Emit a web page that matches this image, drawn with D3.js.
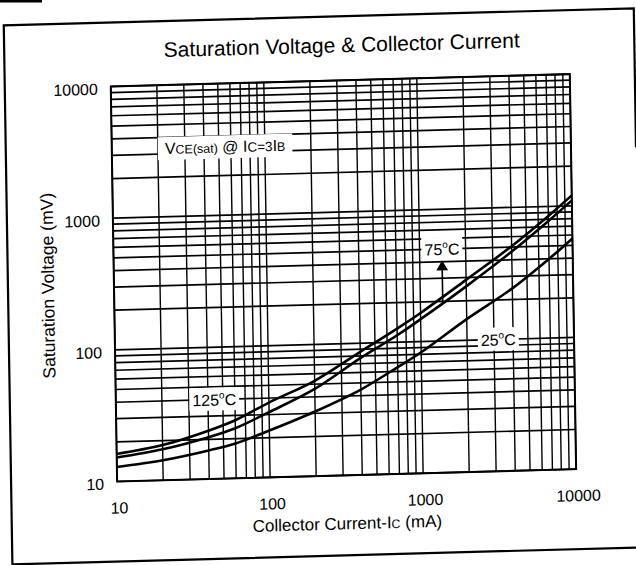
<!DOCTYPE html>
<html>
<head>
<meta charset="utf-8">
<script src="https://cdn.jsdelivr.net/npm/d3@7"></script>
<style>
  body { margin: 0; background: #fff; }
  svg { display: block; font-family: Arial, "Liberation Sans", sans-serif; }
</style>
</head>
<body>
<div id="viz"></div>
<script>
// collector current (mA) and saturation voltage (mV)
var currents = [10, 20, 40, 60, 100, 200, 400, 700, 1000, 2000, 4000, 7000, 10000];
var v125 = [16.2, 18.5, 23.3, 27.6, 37, 53, 86, 127, 165, 288, 508, 847, 1200];
var v75 = [15.2, 17.2, 20.8, 24, 31.3, 46, 77, 113, 148, 257, 462, 776, 1100];
var v25 = [12.9, 14.2, 16.5, 18.4, 22.7, 31, 44.5, 64.7, 83, 145, 243, 400, 565];

var xTickLabels = ["10", "100", "1000", "10000"];
var yTickLabels = ["10", "100", "1000", "10000"];

var tempLabels = [
  { text: "125", x: 44, y: 40 },
  { text: "75", x: 1400, y: 500, arrow: true },
  { text: "25", x: 3200, y: 100 }
];

var width = 636, height = 565;
// note: "top" is taken by window.top, so keep plot edges in one place
var plot = { left: 114, right: 573, top: 81, bottom: 476 };

var x = d3.scaleLog().domain([10, 10000]).range([plot.left, plot.right]);
var y = d3.scaleLog().domain([10, 10000]).range([plot.bottom, plot.top]);

var svg = d3.select("#viz").append("svg")
  .attr("width", width)
  .attr("height", height);

// scrap of the neighbouring box at the top-left of the scan
svg.append("rect")
  .attr("x", 0).attr("y", 0).attr("width", 42).attr("height", 2.5)
  .attr("fill", "#000");

// the scanned page sits a little crooked
var g = svg.append("g")
  .attr("transform", "matrix(1,-0.027,0.016,1,-4.5,8.6)");

// page frame (right side only shows near the top)
g.append("path")
  .attr("d", "M638,156 L638,17 L8,17 L8,556 L645,556")
  .attr("fill", "none")
  .attr("stroke", "#000")
  .attr("stroke-width", 2.2);

g.append("text")
  .attr("x", (plot.left + plot.right) / 2 + 2)
  .attr("y", 53)
  .attr("text-anchor", "middle")
  .attr("font-size", 21)
  .text("Saturation Voltage & Collector Current");

// log grid
var grid = g.append("g").attr("stroke", "#000");
grid.selectAll(".vx").data(x.ticks())
  .enter().append("line")
  .attr("x1", function(d) { return x(d); })
  .attr("x2", function(d) { return x(d); })
  .attr("y1", plot.top).attr("y2", plot.bottom)
  .attr("stroke-width", 1.4);
grid.selectAll(".hy").data(y.ticks())
  .enter().append("line")
  .attr("y1", function(d) { return y(d); })
  .attr("y2", function(d) { return y(d); })
  .attr("x1", plot.left).attr("x2", plot.right)
  .attr("stroke-width", 1.7);

g.append("rect")
  .attr("x", plot.left).attr("y", plot.top)
  .attr("width", plot.right - plot.left).attr("height", plot.bottom - plot.top)
  .attr("fill", "none").attr("stroke", "#000").attr("stroke-width", 2);

// tick labels
g.selectAll(".xl").data(xTickLabels)
  .enter().append("text")
  .attr("x", function(d) { return x(+d) + 2; })
  .attr("y", plot.bottom + 32)
  .attr("text-anchor", "middle")
  .attr("font-size", 16)
  .text(function(d) { return d; });

g.selectAll(".yl").data(yTickLabels)
  .enter().append("text")
  .attr("x", plot.left - 13)
  .attr("y", function(d) { return y(+d) + 8; })
  .attr("text-anchor", "end")
  .attr("font-size", 16)
  .text(function(d) { return d; });

var xt = g.append("text")
  .attr("x", (plot.left + plot.right) / 2)
  .attr("y", plot.bottom + 54)
  .attr("text-anchor", "middle")
  .attr("font-size", 17);
xt.append("tspan").text("Collector Current-I");
xt.append("tspan").attr("font-size", 12.5).text("C");
xt.append("tspan").text(" (mA)");

g.append("text")
  .attr("transform", "translate(54," + ((plot.top + plot.bottom) / 2) + ") rotate(-90)")
  .attr("text-anchor", "middle")
  .attr("font-size", 17.5)
  .text("Saturation Voltage (mV)");

// curves
var line = d3.line()
  .x(function(d) { return x(d[0]); })
  .y(function(d) { return y(d[1]); })
  .curve(d3.curveCatmullRom.alpha(0.5));

[v125, v75, v25].forEach(function(vals) {
  g.append("path")
    .datum(d3.zip(currents, vals))
    .attr("d", line)
    .attr("fill", "none")
    .attr("stroke", "#000")
    .attr("stroke-width", 2.6);
});

// white box behind a label, knocking out the grid
function boxed(text, pad) {
  var bb = text.node().getBBox();
  g.insert("rect", function() { return text.node(); })
    .attr("x", bb.x - pad[0]).attr("y", bb.y - pad[1])
    .attr("width", bb.width + 2 * pad[0]).attr("height", bb.height + 2 * pad[1])
    .attr("fill", "#fff");
}

var cond = g.append("text")
  .attr("x", x(22.2))
  .attr("y", y(3000))
  .attr("font-size", 16);
cond.append("tspan").text("V");
cond.append("tspan").attr("font-size", 12.5).text("CE(sat)");
cond.append("tspan").text(" @ I");
cond.append("tspan").attr("font-size", 13.5).text("C=3");
cond.append("tspan").text("I");
cond.append("tspan").attr("font-size", 12.5).text("B");
boxed(cond, [7, 3]);

// interpolate on log-log axes to find where the arrow meets the 75 curve
function logInterp(xs, ys, v) {
  for (var i = 0; i < xs.length - 1; i++) {
    if (v >= xs[i] && v <= xs[i + 1]) {
      var f = Math.log(v / xs[i]) / Math.log(xs[i + 1] / xs[i]);
      return Math.exp(Math.log(ys[i]) + f * Math.log(ys[i + 1] / ys[i]));
    }
  }
  return ys[ys.length - 1];
}

tempLabels.forEach(function(d) {
  var t = g.append("text")
    .attr("x", x(d.x))
    .attr("y", y(d.y) + 6)
    .attr("text-anchor", "middle")
    .attr("font-size", 16);
  t.append("tspan").text(d.text);
  t.append("tspan").attr("font-size", 10).attr("dy", -7).text("o");
  t.append("tspan").attr("dy", 7).text("C");
  boxed(t, [3, 2]);

  if (d.arrow) {
    var ty = y(d.y) + 18;
    g.append("line")
      .attr("x1", x(d.x)).attr("x2", x(d.x))
      .attr("y1", ty).attr("y2", y(logInterp(currents, v75, d.x)))
      .attr("stroke", "#000").attr("stroke-width", 1.6);
    g.append("path")
      .attr("d", d3.symbol(d3.symbolTriangle, 60))
      .attr("transform", "translate(" + x(d.x) + "," + ty + ")")
      .attr("fill", "#000");
  }
});
</script>
</body>
</html>
